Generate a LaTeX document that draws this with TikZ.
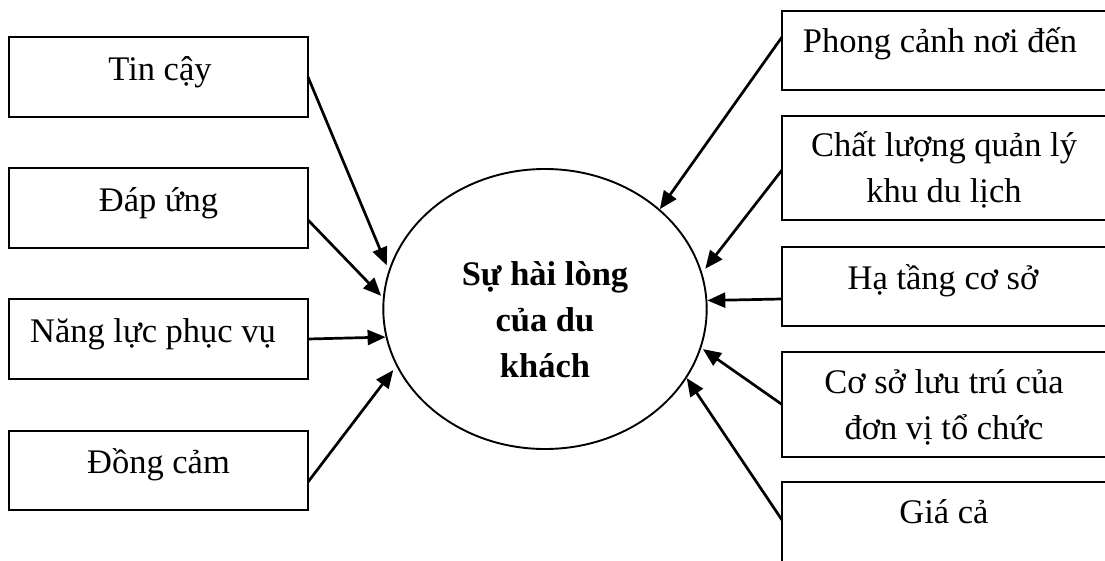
\documentclass[tikz,border=0pt]{standalone}
\usepackage{fontspec}
\setmainfont{Liberation Serif}
\usetikzlibrary{shapes.geometric,arrows.meta}
\begin{document}
\begin{tikzpicture}[x=1pt,y=1pt,
  fbox/.style={draw, line width=2pt, rectangle, inner sep=0pt, outer sep=0pt},
  lbl/.style={font=\fontsize{34.5}{46}\selectfont, inner sep=0pt, align=center, anchor=base},
  conn/.style={line width=2.7pt, -{Triangle[length=18pt,width=15pt]}},
]
\useasboundingbox (0,0) rectangle (1105,560);
\clip (0,0) rectangle (1105,560);

% left boxes
\node[fbox, minimum width=299pt, minimum height=80pt] (tin) at (158.5,483) {};
\node[fbox, minimum width=299pt, minimum height=80pt] (dap) at (158.5,352) {};
\node[fbox, minimum width=299pt, minimum height=80pt] (nang) at (158.5,221) {};
\node[fbox, minimum width=299pt, minimum height=79pt] (dong) at (158.5,89.5) {};
\node[lbl] (tint) at (160,479) {Tin cậy};
\node[lbl] (dapt) at (158.5,348) {Đáp ứng};
\node[lbl] (nangt) at (153,218) {Năng lực phục vụ};
\node[lbl] (dongt) at (158.5,87) {Đồng cảm};

% right boxes
\node[fbox, minimum width=324pt, minimum height=79pt] (phong) at (944,509.5) {};
\node[fbox, minimum width=324pt, minimum height=104pt] (chat) at (944,392) {};
\node[fbox, minimum width=324pt, minimum height=79pt] (ha) at (944,273.5) {};
\node[fbox, minimum width=324pt, minimum height=105pt] (coso) at (944,155.5) {};
\node[fbox, minimum width=324pt, minimum height=120pt] (gia) at (944,18) {};
\node[lbl] (phongt) at (940,507) {Phong cảnh nơi đến};
\node[lbl] (chatt) at (944,357) {Chất lượng quản lý\\khu du lịch};
\node[lbl] (hat) at (943,270) {Hạ tầng cơ sở};
\node[lbl] (cosot) at (944,121) {Cơ sở lưu trú của\\đơn vị tổ chức};
\node[lbl] (giat) at (944,37) {Giá cả};

% centre
\node[draw, ellipse, line width=1.9pt, inner sep=0pt, minimum width=323.4pt, minimum height=280pt] (c) at (545,251) {};
\node[lbl, font=\fontsize{34.5}{46}\selectfont\bfseries] (ct) at (545,183) {Sự hài lòng\\của du\\khách};

% connectors
\draw[conn, shorten >=5pt] (tin.east) -- (c.166.5);
\draw[conn, shorten >=2.5pt] ([yshift=-12pt]dap.east) -- (c.176);
\draw[conn] (nang.east) -- (c.190.3);
\draw[conn, shorten >=5pt] ([yshift=-11.5pt]dong.east) -- (c.201.2);
\draw[conn] ([yshift=13.5pt]phong.west) -- (c.41.5);
\draw[conn, shorten >=5pt] ([yshift=-2pt]chat.west) -- (c.13.1);
\draw[conn] ([yshift=-12.5pt]ha.west) -- (c.3.5);
\draw[conn, shorten >=2pt] (coso.west) -- (c.346.6);
\draw[conn] ([yshift=-38pt]gia.north west) -- (c.334.1);
\end{tikzpicture}
\end{document}
